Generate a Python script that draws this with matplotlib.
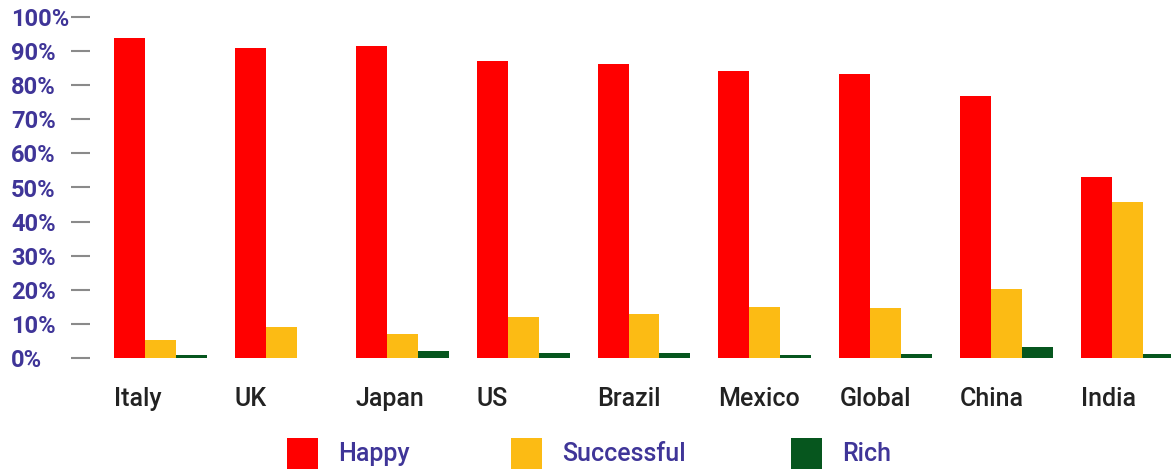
import matplotlib
matplotlib.use("Agg")
import matplotlib.pyplot as plt
import numpy as np
from matplotlib import font_manager
from matplotlib.patches import Rectangle

countries = ["Italy", "UK", "Japan", "US", "Brazil", "Mexico", "Global", "China", "India"]
series_names = ["Happy", "Successful", "Rich"]
happy = [93.9, 91.0, 91.6, 87.2, 86.3, 84.2, 83.3, 76.9, 53.1]
successful = [5.2, 9.0, 7.0, 12.0, 12.8, 14.9, 14.6, 20.2, 45.7]
rich = [0.9, 0.0, 2.0, 1.4, 1.4, 0.8, 1.1, 3.1, 1.1]
y_ticks = [0, 10, 20, 30, 40, 50, 60, 70, 80, 90, 100]

colors = ["#ff0000", "#fcbb14", "#06561e"]
label_purple = "#3f3598"
label_dark = "#222222"

installed = {f.name for f in font_manager.fontManager.ttflist}
family = [f for f in ["Roboto", "DejaVu Sans"] if f in installed]
plt.rcParams["font.family"] = family

W, H = 1171, 469
fig = plt.figure(figsize=(W / 100, H / 100), dpi=100)
ax_left, ax_right = 90, 1171
ax_top, ax_bottom = 17.3, 357.7
ax = fig.add_axes([ax_left / W, 1 - ax_bottom / H, (ax_right - ax_left) / W, (ax_bottom - ax_top) / H])

x = np.arange(len(countries))
bar_w = 0.256
for i, (vals, col) in enumerate(zip([happy, successful, rich], colors)):
    ax.bar(x + (i - 1) * bar_w, vals, width=bar_w, color=col, linewidth=0)

spacing = 120.875
left_units = (160.5 - ax_left) / spacing
ax.set_xlim(-left_units, -left_units + (ax_right - ax_left) / spacing)
ax.set_ylim(0, 100)

for s in ax.spines.values():
    s.set_visible(False)

ax.set_yticks(y_ticks)
ax.set_yticklabels([f"{v}%" for v in y_ticks])
ax.tick_params(axis="y", length=13.7, width=1.5, color="#8a8a8a", pad=43.2,
               labelsize=17, labelcolor=label_purple)
for lab in ax.get_yticklabels():
    lab.set_horizontalalignment("left")
    lab.set_fontweight("semibold")

ax.set_xticks(x - 1.5 * bar_w)
ax.set_xticklabels(countries)
ax.tick_params(axis="x", length=0, pad=21, labelsize=18, labelcolor=label_dark)
for lab in ax.get_xticklabels():
    lab.set_horizontalalignment("left")
    lab.set_fontweight("medium")

# legend drawn by hand to keep the spacing of the original
legend_sq = [287, 511, 791]
for name, col, sx in zip(series_names, colors, legend_sq):
    fig.patches.append(Rectangle((sx / W, 1 - 468.7 / H), 31 / W, 31 / H,
                                 transform=fig.transFigure, color=col, linewidth=0))
    fig.text((sx + 51) / W, 1 - 454 / H, name, fontsize=18, color=label_purple,
             ha="left", va="center", fontweight="medium")

fig.savefig("out.png", dpi=100)
